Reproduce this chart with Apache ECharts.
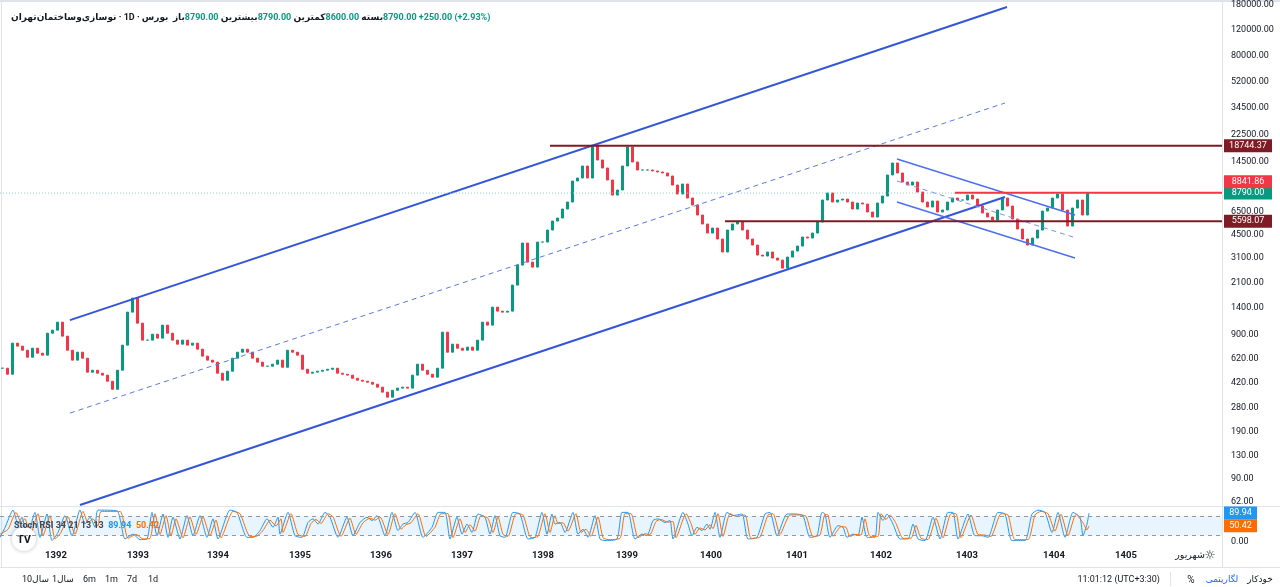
<!DOCTYPE html>
<html>
<head>
<meta charset="utf-8">
<title>نوسازی‌وساختمان‌تهران</title>
<script src="https://cdn.jsdelivr.net/npm/echarts@6/dist/echarts.min.js"></script>
<style>
  html, body { margin: 0; padding: 0; background: #fff; }
  #chart { width: 1280px; height: 587px; }
</style>
</head>
<body>
<div id="chart"></div>
<script>
// قیمت پایانی هر شمع (هر شمع حدود یک هفته)، خوانده از تصویر
var closes = [
  530, 481, 792, 755, 707, 632, 730, 674, 653, 929,
  975, 1109, 886, 707, 603, 685, 622, 497, 513, 489,
  474, 430, 378, 513, 767, 1302, 1630, 1091, 831, 831,
  914, 858, 1057, 929, 831, 779, 831, 767, 792, 719,
  643, 603, 584, 489, 437, 505, 622, 685, 719, 685,
  622, 584, 547, 547, 565, 603, 538, 707, 685, 653,
  521, 489, 497, 505, 513, 521, 530, 489, 481, 474,
  451, 437, 430, 423, 410, 391, 361, 333, 372, 385,
  391, 385, 474, 565, 513, 481, 459, 530, 944, 685,
  779, 730, 707, 743, 707, 831, 1109, 1057, 1411, 1323,
  1302, 1323, 2008, 2768, 3943, 2904, 2681, 4006, 4006, 4857,
  5611, 5888, 6803, 7610, 10657, 11184, 13560, 11184, 18690, 14930,
  13132, 10830, 8514, 9225, 13560, 18400, 14458, 12720, 12720, 12720,
  12517, 12318, 12122, 11553, 9994, 8652, 10156, 8114, 7253, 6178,
  5348, 4629, 5016, 4204, 3413, 4857, 5348, 5522, 4857, 4204,
  3818, 3252, 3200, 3413, 3099, 2999, 2638, 3149, 3468, 3757,
  4341, 4272, 4629, 5522, 7858, 8792, 7610, 7858, 7985, 7610,
  6803, 7490, 7370, 6483, 5983, 7490, 8378, 11740, 14230, 12122,
  10488, 9994, 10488, 8933, 7610, 7024, 7733, 6483, 6694, 7610,
  8114, 7858, 7858, 8514, 7985, 7137, 6380, 5983, 5702, 6694,
  8114, 7137, 5795, 4936, 4204, 3818, 4272, 4857, 6587, 6913,
  8114, 8652, 6694, 5179, 6913, 7858, 6178, 8790
];

// برچسب‌های محور قیمت (لگاریتمی)
var priceTicks = [180000, 120000, 80000, 52000, 34500, 22500, 14500, 6500, 4500, 3100,
  2100, 1400, 900, 620, 420, 280, 190, 130, 90, 62];

// محور زمان (واحد: شماره شمع)
var timeTicks = [11.2, 27.6, 43.6, 60.0, 76.2, 92.4, 108.6, 125.4, 142.2, 159.4, 176.2, 193.4, 210.8, 225.2, 238.0];
var timeLabels = ['1392', '1393', '1394', '1395', '1396', '1397', '1398', '1399', '1400', '1401', '1402', '1403', '1404', '1405', 'شهریور'];

// خطوط روند [زمان، قیمت]
var channelUpper = [[14.0, 1145], [201.4, 173600]];
var channelLower = [[16.0, 59.1], [201.0, 8250]];
var channelMid = [[14.0, 258], [201.0, 37240]];
var downUpper = [[179.4, 15180], [215.0, 6182]];
var downLower = [[179.4, 7615], [215.0, 3102]];
var downMid = [[179.4, 10660], [214.6, 4344]];

// سطوح افقی
var levelStart = [110.0, 191.0, 145.0];
var levelPrice = [18744.37, 8841.86, 5598.07];
var lastPrice = 8790.00;

// Stoch RSI  [زمان، مقدار]
var stochK = [
  [0,15],[1,45],[2.6,99],[3.6,56],[4.4,77],[5.4,15],[7,92],[8,15],[9.4,87],[10.4,5],[11.6,30],[13,82],[14.4,20],[16,99],[17,56],[18,77],[19,46],[19.6,99],[23.4,97],[25,10],[26.6,25],[28,8],[29.4,10],[30.4,92],[31.4,20],[32.6,87],[33.6,15],[34.6,77],[36,10],[37.4,82],[38.6,20],[40,82],[41.4,15],[42.6,72],[43.6,10],[46,99],[47.4,92],[49.4,15],[50.6,15],[52,36],[53.4,72],[54.6,46],[55.6,77],
  [56,25],[57.6,92],[59,20],[60.4,15],[61.6,61],[62.6,72],[63.6,56],[65,92],[66,77],[67.6,15],[69.4,77],[70.6,20],[72,61],[73.4,77],[74.4,67],[75.4,82],[77,20],[78.4,92],[79.6,36],[80.6,56],[81.6,61],[83,92],[84.6,15],[86.4,46],[87.6,92],[89,92],[90,10],[91.4,77],[92.4,25],[93.4,56],[94.4,30],[95.6,87],[97,77],[98,25],[99,82],[100,20],[101,15],[102.6,92],[104,87],[105.6,10],[107,15],[108.4,92],[109.4,25],[110.4,87],
  [111,56],[112,61],[113,30],[114.6,92],[115.6,25],[116.6,40],[117.6,15],[119,82],[120,10],[121,5],[123.4,10],[124.4,92],[125.6,92],[127,10],[128.4,25],[129.4,20],[130.6,67],[131.6,72],[133,61],[134,67],[134.6,10],[136.6,92],[137.6,56],[138.4,20],[139.4,46],[140.4,36],[141.4,56],[142,40],[143,92],[144,15],[145.4,92],[146.6,82],[148.4,87],[149.6,10],[151.4,15],[153,87],[154,92],[155.4,20],[157.4,87],[159,87],[160.6,82],[162,15],[163.4,20],[164.4,92],
  [165,87],[166,15],[167.6,51],[168.6,46],[169.4,15],[170.6,25],[171.6,20],[172.4,77],[173.4,15],[175,15],[175.6,92],[176.6,67],[177.4,87],[178.6,56],[180,10],[181.6,10],[182.6,56],[183.6,10],[185,5],[186.6,77],[188,10],[189.6,92],[190.6,92],[191.6,10],[193.6,87],[195,20],[196.4,20],[197.6,15],[199.6,92],[201,87],[202.4,5],[205,5],[206.4,87],[207.6,99],[209,92],[210.4,30],[211.6,92],[213,15],[214.6,92],[216,77],[216.6,20],[217.4,56],[217.8,89.94]
];
var stochD = [
  [0,25],[1.6,40],[3.2,92],[4.2,62],[5,72],[6,20],[7.6,88],[8.6,20],[10,82],[11,10],[12.2,30],[13.6,78],[15,25],[16.6,95],[17.6,60],[18.6,72],[19.6,50],[20.2,95],[24,95],[25.6,12],[27.2,24],[28.6,10],[30,12],[31,88],[32,24],[33.2,82],[34.2,20],[35.2,72],[36.6,14],[38,78],[39.2,24],[40.6,78],[42,20],[43.2,68],[44.2,14],[46.6,95],[48,88],[50,18],[51.2,18],[52.6,36],[54,68],[55.2,50],[56.2,72],
  [56.6,30],[58.2,88],[59.6,24],[61,18],[62.2,58],[63.2,70],[64.2,58],[65.6,88],[66.6,78],[68.2,18],[70,74],[71.2,24],[72.6,60],[74,74],[75,68],[76,78],[77.6,24],[79,88],[80.2,40],[81.2,54],[82.2,60],[83.6,88],[85.2,18],[87,46],[88.2,88],[89.6,88],[90.6,14],[92,72],[93,30],[94,54],[95,34],[96.2,82],[97.6,74],[98.6,30],[99.6,78],[100.6,24],[101.6,18],[103.2,88],[104.6,84],[106.2,14],[107.6,18],[109,88],[110,30],[111,82],
  [111.6,58],[112.6,60],[113.6,34],[115.2,88],[116.2,30],[117.2,40],[118.2,18],[119.6,78],[120.6,14],[121.6,8],[124,12],[125,88],[126.2,88],[127.6,14],[129,26],[130,24],[131.2,64],[132.2,70],[133.6,62],[134.6,64],[135.2,14],[137.2,88],[138.2,58],[139,24],[140,44],[141,38],[142,54],[142.6,42],[143.6,88],[144.6,18],[146,88],[147.2,80],[149,84],[150.2,12],[152,16],[153.6,84],[154.6,88],[156,24],[158,84],[159.6,84],[161.2,80],[162.6,18],[164,22],[165,86],
  [165.6,84],[166.6,18],[168.2,48],[169.2,46],[170,18],[171.2,24],[172.2,22],[173,72],[174,18],[175.6,18],[176.2,88],[177.2,70],[178,84],[179.2,58],[180.6,12],[182.2,12],[183.2,52],[184.2,12],[185.6,8],[187.2,74],[188.6,14],[190.2,88],[191.2,88],[192.2,14],[194.2,84],[195.6,24],[197,22],[198.2,18],[200.2,88],[201.6,84],[203,8],[205.6,8],[207,84],[208.2,95],[209.6,88],[211,34],[212.2,86],[213.6,20],[215.2,86],[216.6,60],[217.4,38],[217.8,50.42]
];
var lastK = 89.94;
var lastD = 50.42;

// ---------- ساخت نمودار ----------
var tMax = 244.4;
var UP = '#089981', DOWN = '#f23645';
var levelColor = ['#7f1b24', '#f23645', '#7f1b24'];
var levelShift = [0, -11, 0];

function lg(v) { return Math.log(v) / Math.LN10; }
function toLog(pts) { return pts.map(function (p) { return [p[0], lg(p[1])]; }); }

var candles = closes.map(function (c, i) {
  var o = i > 0 ? closes[i - 1] : c;
  return [i + 0.5, lg(o), lg(c), lg(Math.min(o, c)), lg(Math.max(o, c))];
});

function tag(t, value, text, color, w, dy) {
  return {
    silent: true,
    symbol: 'rect',
    symbolSize: [w, 13],
    symbolOffset: [w / 2 + 2, dy || 0],
    itemStyle: { color: color },
    label: { show: true, formatter: text, color: '#fff', fontSize: 9 },
    data: [{ coord: [t, value] }]
  };
}

function trend(pts, color, width, type) {
  return {
    type: 'line', xAxisIndex: 0, yAxisIndex: 0, symbol: 'none', silent: true,
    data: toLog(pts),
    lineStyle: { color: color, width: width, type: type || 'solid' }
  };
}

var series = [
  {
    type: 'candlestick', xAxisIndex: 0, yAxisIndex: 0,
    data: candles, encode: { x: 0, y: [1, 2, 3, 4] },
    barWidth: 2,
    itemStyle: { color: UP, color0: DOWN, borderColor: UP, borderColor0: DOWN, borderWidth: 1 }
  },
  trend(channelUpper, '#3356d6', 2),
  trend(channelLower, '#3356d6', 2),
  trend(channelMid, '#5c7ae6', 1, [5, 4]),
  trend(downUpper, '#4d6ff2', 1.5),
  trend(downLower, '#4d6ff2', 1.5),
  trend(downMid, '#7890ee', 1, [5, 4]),
  {
    type: 'line', xAxisIndex: 0, yAxisIndex: 0, symbol: 'none', silent: true, clip: false,
    data: [[0, lg(lastPrice)], [tMax, lg(lastPrice)]],
    lineStyle: { color: '#8fd3c6', width: 1, type: [1, 2] },
    markPoint: tag(tMax, lg(lastPrice), lastPrice.toFixed(2), UP, 48, 0)
  }
];

levelPrice.forEach(function (p, k) {
  series.push({
    type: 'line', xAxisIndex: 0, yAxisIndex: 0, symbol: 'none', silent: true, clip: false,
    data: [[levelStart[k], lg(p)], [tMax, lg(p)]],
    lineStyle: { color: levelColor[k], width: 2 },
    markPoint: tag(tMax, lg(p), p.toFixed(2), levelColor[k], 48, levelShift[k])
  });
});

series.push({
  type: 'line', xAxisIndex: 1, yAxisIndex: 1, symbol: 'none', silent: true, clip: false,
  data: stochK, smooth: 0.2,
  lineStyle: { color: '#2196f3', width: 1 },
  markArea: { silent: true, itemStyle: { color: 'rgba(33,150,243,0.1)' }, data: [[{ yAxis: 20 }, { yAxis: 80 }]] },
  markLine: {
    silent: true, symbol: 'none', label: { show: false },
    lineStyle: { color: '#9598a1', type: [4, 4], width: 1 },
    data: [{ yAxis: 80 }, { yAxis: 20 }]
  },
  markPoint: tag(tMax, lastK, lastK.toFixed(2), '#2196f3', 33, 0)
});
series.push({
  type: 'line', xAxisIndex: 1, yAxisIndex: 1, symbol: 'none', silent: true, clip: false,
  data: stochD, smooth: 0.2,
  lineStyle: { color: '#ff6d00', width: 1 },
  markPoint: tag(tMax, lastD, lastD.toFixed(2), '#ff6d00', 33, 0)
});

var FONT = 'Roboto, "DejaVu Sans", sans-serif';
var INK = '#131722';

function txt(x, y, s, color, align, size) {
  return {
    type: 'text', x: x, y: y, silent: true,
    style: { text: s, fill: color || INK, font: (size || 9) + 'px ' + FONT, align: align || 'left', verticalAlign: 'middle' }
  };
}
function hline(y, x1, x2) {
  return { type: 'line', silent: true, shape: { x1: x1, y1: y, x2: x2, y2: y }, style: { stroke: '#e0e3eb', lineWidth: 1 } };
}
function vline(x, y1, y2) {
  return { type: 'line', silent: true, shape: { x1: x, y1: y1, x2: x, y2: y2 }, style: { stroke: '#e0e3eb', lineWidth: 1 } };
}

var myChart = echarts.init(document.getElementById('chart'));

var option = {
  animation: false,
  backgroundColor: '#ffffff',
  textStyle: { fontFamily: FONT },
  title: [
    {
      left: 6, top: 8, z: 10,
      text: '{n|نوسازی‌وساختمان‌تهران} {n|·} {n|1D} {n|·} {n|بورس}  {l|باز}{v|8790.00} {l|بیشترین}{v|8790.00} {l|کمترین}{v|8600.00} {l|بسته}{v|8790.00} {v|+250.00 (+2.93%)}',
      textStyle: {
        fontSize: 9,
        rich: {
          n: { color: INK, fontSize: 9 },
          l: { color: INK, fontSize: 9 },
          v: { color: UP, fontSize: 9 }
        }
      }
    },
    {
      left: 9, top: 512, z: 10,
      text: '{g|Stoch RSI 34 21 13 13} {b|89.94} {o|50.42}',
      textStyle: {
        rich: {
          g: { color: '#434651', fontSize: 9 },
          b: { color: '#2196f3', fontSize: 9 },
          o: { color: '#ff6d00', fontSize: 9 }
        }
      }
    }
  ],
  grid: [
    { left: 0, right: 58, top: 0, height: 506 },
    { left: 0, right: 58, top: 506, height: 40 }
  ],
  xAxis: [
    { type: 'value', gridIndex: 0, min: 0, max: tMax, show: false },
    {
      type: 'value', gridIndex: 1, min: 0, max: tMax,
      axisLine: { show: false }, axisTick: { show: false }, splitLine: { show: false },
      axisLabel: {
        customValues: timeTicks,
        margin: 5,
        formatter: function (v) {
          var k = 0;
          for (var j = 1; j < timeTicks.length; j++) {
            if (Math.abs(timeTicks[j] - v) < Math.abs(timeTicks[k] - v)) k = j;
          }
          return (k === timeTicks.length - 1 ? '{m|' : '{y|') + timeLabels[k] + '}';
        },
        rich: {
          y: { color: INK, fontSize: 9.5, fontWeight: 'bold' },
          m: { color: INK, fontSize: 9.5 }
        }
      }
    }
  ],
  yAxis: [
    {
      type: 'value', gridIndex: 0, position: 'right', min: 1.7646, max: 5.2883,
      axisLine: { show: false }, axisTick: { show: false }, splitLine: { show: false },
      axisLabel: {
        customValues: priceTicks.map(lg),
        margin: 9, color: INK, fontSize: 9,
        formatter: function (v) { return Math.round(Math.pow(10, v)).toFixed(2); }
      }
    },
    {
      type: 'value', gridIndex: 1, position: 'right', min: -11.7, max: 111.7,
      axisLine: { show: false }, axisTick: { show: false }, splitLine: { show: false },
      axisLabel: {
        customValues: [0],
        margin: 9, color: INK, fontSize: 9,
        formatter: function (v) { return v.toFixed(2); }
      }
    }
  ],
  series: series,
  graphic: [
    { type: 'rect', silent: true, shape: { x: 0, y: 0, width: 1280, height: 2 }, style: { fill: '#e0e3eb' } },
    vline(1.5, 0, 567),
    vline(1222.5, 0, 567),
    hline(506.5, 0, 1280),
    hline(567.5, 0, 1280),
    vline(1170.5, 572, 586),
    {
      type: 'circle', silent: true, z: 5, shape: { cx: 24, cy: 539, r: 12 },
      style: { fill: '#fff', shadowBlur: 4, shadowColor: 'rgba(0,0,0,0.25)' }
    },
    {
      type: 'text', silent: true, z: 5, x: 24, y: 540,
      style: { text: 'TV', fill: INK, font: 'bold 11px ' + FONT, align: 'center', verticalAlign: 'middle' }
    },
    txt(1210, 556, '☼', INK, 'center', 12),
    txt(22, 580, '10سال'),
    txt(52, 580, '1سال'),
    txt(83, 580, '6m'),
    txt(105, 580, '1m'),
    txt(127, 580, '7d'),
    txt(148, 580, '1d'),
    txt(1160, 580, '11:01:12 (UTC+3:30)', INK, 'right'),
    txt(1191, 580, '%', INK, 'center', 10),
    txt(1222, 580, 'لگاریتمی', '#2962ff', 'center'),
    txt(1260, 580, 'خودکار', INK, 'center')
  ]
};

myChart.setOption(option);
</script>
</body>
</html>
